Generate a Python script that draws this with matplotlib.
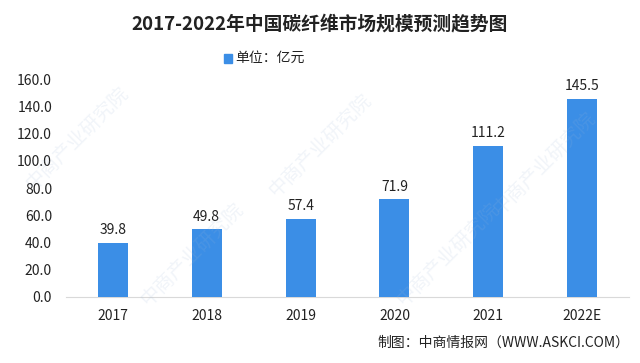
import matplotlib.pyplot as plt

plt.rcParams["font.family"] = ["Noto Sans CJK SC", "DejaVu Sans"]

years = ["2017", "2018", "2019", "2020", "2021", "2022E"]
values = [39.8, 49.8, 57.4, 71.9, 111.2, 145.5]
yticks = [0, 20, 40, 60, 80, 100, 120, 140, 160]

bar_color = "#3b8ee6"
text_color = "#222222"

fig = plt.figure(figsize=(6.4, 3.63), dpi=100)
ax = fig.add_axes([0.103, 0.182, 0.880, 0.600])

x = list(range(len(years)))
ax.bar(x, values, width=0.32, color=bar_color, zorder=3)
for xi, v in zip(x, values):
    ax.text(xi, v + 4, f"{v:.1f}", ha="center", va="bottom", fontsize=10, color=text_color)

ax.set_xlim(-0.5, len(years) - 0.5)
ax.set_ylim(0, 160)
ax.set_yticks(yticks)
ax.set_yticklabels([f"{t:.1f}" for t in yticks], fontsize=10, color=text_color)
ax.set_xticks(x)
ax.set_xticklabels(years, fontsize=10, color=text_color)
ax.tick_params(axis="both", length=0, pad=9)
ax.tick_params(axis="y", pad=10)
for s in ["top", "right", "left"]:
    ax.spines[s].set_visible(False)
ax.spines["bottom"].set_color("#d9d9d9")

fig.text(0.5, 0.935, "2017-2022年中国碳纤维市场规模预测趋势图", ha="center", va="center",
         fontsize=13.5, fontweight="bold", color=text_color)
fig.patches.append(plt.Rectangle((0.350, 0.826), 0.012, 0.026, transform=fig.transFigure,
                                 color=bar_color))
fig.text(0.368, 0.84, "单位：亿元", ha="left", va="center", fontsize=10, color=text_color)
fig.text(0.983, 0.055, "制图：中商情报网（WWW.ASKCI.COM）", ha="right", va="center",
         fontsize=10, color=text_color)

# faint watermark
for wx, wy in [(0.12, 0.62), (0.5, 0.6), (0.85, 0.55), (0.3, 0.3), (0.7, 0.3)]:
    fig.text(wx, wy, "中商产业研究院", rotation=45, fontsize=14, color="#9fb8d8",
             alpha=0.15, ha="center", va="center", zorder=0)

fig.savefig("out.png", dpi=100)
